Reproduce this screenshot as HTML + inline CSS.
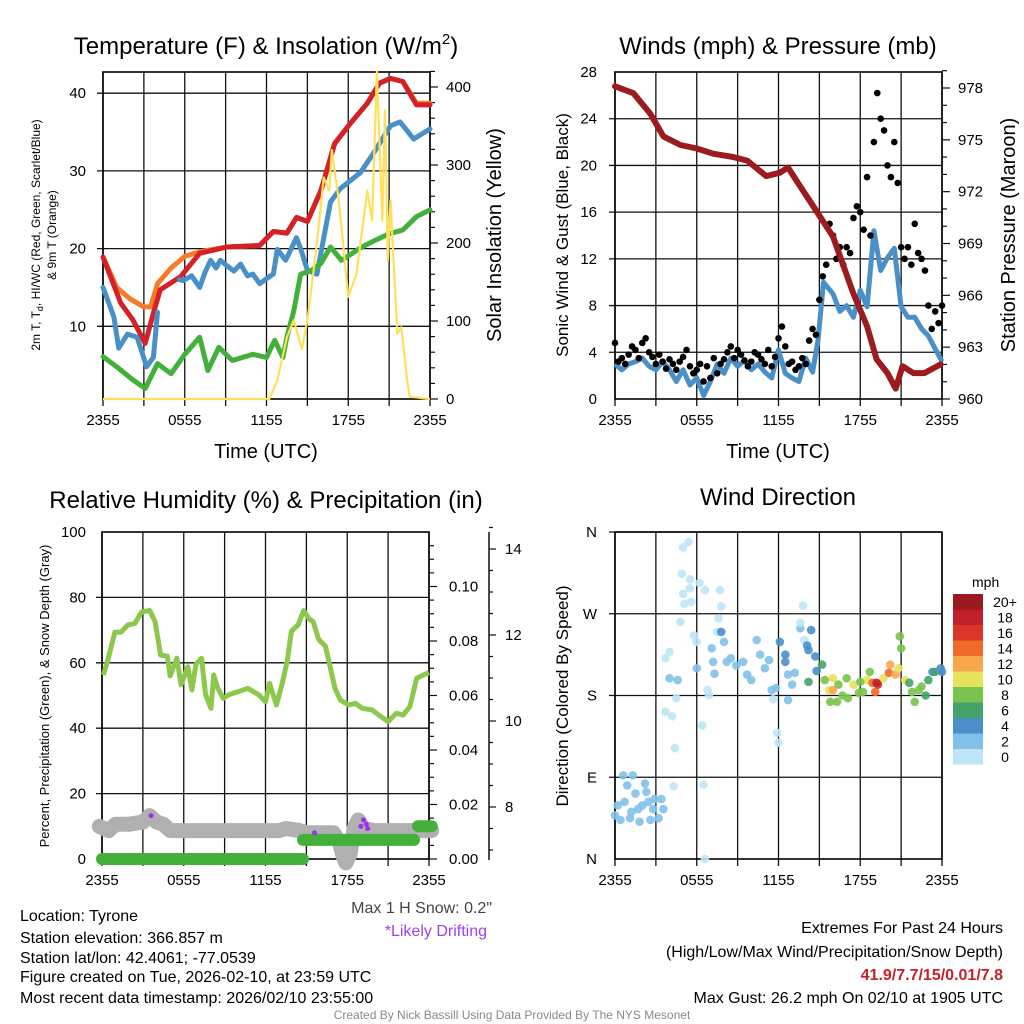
<!DOCTYPE html>
<html><head><meta charset="utf-8"><style>
html,body{margin:0;padding:0;background:#fff;}
svg{display:block;font-family:"Liberation Sans",sans-serif;}
</style></head><body>
<svg id="c" width="1024" height="1024" viewBox="0 0 1024 1024" xmlns="http://www.w3.org/2000/svg">
<rect width="1024" height="1024" fill="#fff"/>
<!-- titles -->
<text x="266" y="54" font-size="24" text-anchor="middle">Temperature (F) &amp; Insolation (W/m<tspan font-size="15" dy="-10">2</tspan><tspan dy="10">)</tspan></text>
<text x="778" y="54" font-size="24" text-anchor="middle">Winds (mph) &amp; Pressure (mb)</text>
<text x="266" y="508" font-size="24" text-anchor="middle">Relative Humidity (%) &amp; Precipitation (in)</text>
<text x="778" y="505" font-size="24" text-anchor="middle">Wind Direction</text>
<!-- axis titles -->
<text x="266" y="458" font-size="20" text-anchor="middle">Time (UTC)</text>
<text x="778" y="458" font-size="20" text-anchor="middle">Time (UTC)</text>
<text transform="translate(40,235) rotate(-90)" font-size="12" text-anchor="middle">2m T, T<tspan font-size="9" dy="3">d</tspan><tspan dy="-3">, HI/WC (Red, Green, Scarlet/Blue)</tspan></text>
<text transform="translate(56,235) rotate(-90)" font-size="12" text-anchor="middle">&amp; 9m T (Orange)</text>
<text transform="translate(501,235) rotate(-90)" font-size="20" text-anchor="middle">Solar Insolation (Yellow)</text>
<text transform="translate(568,235) rotate(-90)" font-size="17" text-anchor="middle">Sonic Wind &amp; Gust (Blue, Black)</text>
<text transform="translate(1015,235) rotate(-90)" font-size="20" text-anchor="middle">Station Pressure (Maroon)</text>
<text transform="translate(49,696) rotate(-90)" font-size="13" text-anchor="middle">Percent, Precipitation (Green), &amp; Snow Depth (Gray)</text>
<text transform="translate(568,696) rotate(-90)" font-size="17" text-anchor="middle">Direction (Colored By Speed)</text>
<!-- footer text -->
<g font-size="16">
<text x="20" y="921">Location: Tyrone</text>
<text x="20" y="943">Station elevation: 366.857 m</text>
<text x="20" y="963">Station lat/lon: 42.4061; -77.0539</text>
<text x="20" y="982">Figure created on Tue, 2026-02-10, at 23:59 UTC</text>
<text x="20" y="1003">Most recent data timestamp: 2026/02/10 23:55:00</text>
</g>
<text x="492" y="913" font-size="16" fill="#444" text-anchor="end">Max 1 H Snow: 0.2"</text>
<text x="487" y="936" font-size="16" fill="#a040f0" text-anchor="end">*Likely Drifting</text>
<g font-size="16" text-anchor="end">
<text x="1003" y="933">Extremes For Past 24 Hours</text>
<text x="1003" y="957">(High/Low/Max Wind/Precipitation/Snow Depth)</text>
<text x="1003" y="980" fill="#c8202a" font-weight="bold">41.9/7.7/15/0.01/7.8</text>
<text x="1003" y="1003">Max Gust: 26.2 mph On 02/10 at 1905 UTC</text>
</g>
<text x="512" y="1019" font-size="12" fill="#888" text-anchor="middle">Created By Nick Bassill Using Data Provided By The NYS Mesonet</text>
<text x="972" y="587" font-size="14">mph</text>
</svg>
<script>
// ---------- Data ----------
const xTickLabels = ["2355","0555","1155","1755","2355"];
// Panel 1: temperature
const redT = [0,1.3,2.2,3.1,3.7,4.2,5.7,7.1,9.1,11.5,12.5,13.5,14.2,15,16,17,18.1,19.4,20.3,21.1,22,23,24];
const redV = [18.9,13,10.8,7.8,11.7,14.7,16.4,19.4,20.2,20.4,22.2,22,24,23.5,27.5,33.5,36,38.7,41.3,41.9,41.5,38.5,38.5];
const orangeT = [0,0.5,1,2,3,3.5,4,5,6,7.1,9.1,11.5,12.5,13.5,14.2,15,16,17,18.1,19.4,20.3,21.1,22,23,24];
const orangeV = [18.9,17,15,13.5,12.5,12.5,15.5,17.5,19,19.6,20.2,20.4,22.2,22,24,23.5,27.5,33.5,36,38.7,41.3,41.9,41.5,38.7,38.7];
const blueT = [0,0.8,1.15,1.8,2.5,3.2,3.7,4.0,4.3,5.6,5.9,6.5,7.1,7.5,7.9,8.3,8.6,9.6,10.1,10.6,11,11.5,12.3,12.5,12.8,13.4,14.2,14.5,15,15.7,16.7,17.4,18.9,19.9,21.1,21.8,22.8,24];
const blueV = [15,11.2,7.2,9,8.6,4.8,6,11.8,null,16,15.9,16.5,15,17,18.5,17.5,18.5,17.1,18,16.5,16.7,15.5,16.5,16.7,19.9,18.5,21.4,20,17.2,16.7,26,27.7,29.8,32.4,35.8,36.3,34.1,35.4];
const greenT = [0,1,2.2,3.1,4,5,6,7.1,7.7,8.5,9.5,11,12,12.6,13.2,13.5,14,14.5,15.3,16,16.7,17.5,18.3,19,20,21,22,23,24];
const greenV = [6.1,4.8,3.1,2.0,5.2,3.9,6.4,8.6,4.3,7.3,5.6,6.4,6.0,8.2,6.0,8.6,12,16.7,17.2,18.1,20.2,18.5,19.4,20.2,21.1,21.9,22.4,24.1,25];
const solarT = [0,12.2,12.8,13.5,14,14.6,15,15.7,16.2,16.6,16.8,17.3,18,18.6,19.4,19.75,20.1,20.5,20.7,20.9,21.1,21.6,21.9,22.3,22.5,24];
const solarV = [0,0,24,79,101,64,101,199,284,267,319,255,131,160,267,229,420,229,370,177,255,84,92,28,3,0];
// Panel 2: winds & pressure
const presT = [0,1.35,2.6,3.55,4.8,6,7.2,8.7,9.7,11.1,12.1,12.7,13.6,14.6,16,17.5,18.5,19.2,20,20.6,21.1,21.9,22.7,23.9];
const presV = [978.1,977.7,976.5,975.2,974.7,974.5,974.2,974.0,973.8,972.9,973.1,973.4,972.3,971.1,969.4,966.1,964.2,962.3,961.5,960.6,961.9,961.5,961.5,962.0];
const windT = [0,0.5,1,1.5,2,2.5,3,3.5,4,4.5,5,5.5,6,6.5,7,7.5,8,8.5,9,9.5,10,10.5,11,11.5,12,12.5,13,13.5,14,14.5,14.9,15.3,16,16.5,17,17.5,18,18.5,19,19.5,20,20.5,21,21.5,22,22.5,23,23.5,24];
const windV = [3,2.5,3,3.2,3.5,2.8,2.5,3.2,2.5,1.5,2.5,1.2,1.8,0.3,1.5,3,2.2,3.5,2.8,3.3,2.5,3.0,2.3,1.8,4.2,2.2,1.8,1.5,3.5,2.3,5,10,9,7.5,8,7,9.3,7.9,14.4,11,12.1,12.9,7.9,7,7,6,5.4,4.3,3.2];
const gustV = [4.8,3.2,3.5,3.0, 3.8,4.5,4.2,3.5, 4.8,5.2,4.0,3.6, 3.0,3.8,3.2,2.6, 3.4,3.0,2.5,3.2, 3.6,4.2,2.8,2.2, 2.5,3.0,1.5,2.8, 1.8,3.5,2.2,3.0, 3.4,4.0,4.5,3.5, 4.2,3.8,3.3,2.8, 3.2,4.0,3.8,3.4, 3.0,4.2,2.8,3.6, 5.2,6.2,4.5,3.0, 3.2,2.5,2.8,3.5, 3.0,5.0,6.0,5.5, 8.5,10.5,11.5,15, 14,12,13,11.5, 13,12.5,15.5,16.5, 16,14.5,19,14, 22,26.2,24,23, 20,19,22,18.5, 13,12,13,11.5, 15,12.5,12,11, 8,6,7.5,6.5, 8];
// Panel 3: humidity, precip, snow
const rhT = [0.1,0.47,0.95,1.4,1.9,2.4,2.9,3.5,3.9,4.3,4.8,5.0,5.5,5.8,6.3,6.6,6.9,7.3,7.6,8.0,8.2,8.5,8.9,9.3,10.0,10.7,11.5,12.0,12.3,12.8,13.2,13.6,13.9,14.4,14.8,15.2,15.5,15.9,16.4,16.7,17.1,17.5,18.1,18.6,19.1,19.8,20.5,21.0,21.6,22.1,22.6,23.1,23.6,24];
const rhV = [56.3,61.5,69.4,69.4,71.6,72,75.5,76,72.6,62.4,62,56,61.4,53.3,58.8,51.7,59.6,61.4,50.2,46.1,56.3,52.2,49.1,50.2,51.2,52.2,50.2,48.1,53.7,47.1,53.3,60.6,69.7,71.6,76,73.4,72.6,67.2,65.1,59.6,52.2,48.6,47.1,47.6,46.1,45.6,43.5,42,44.6,44,46.6,55.3,56.3,57];
const precipT = [0,14.75,14.75,22.9,23.2,24.2];
const precipV = [0,0,0.007,0.007,0.012,0.012];
const snowT = [-0.2,0.5,1,2,3,3.5,4,4.5,5,7,9,11,13,13.5,14.5,15,16,17,17.4,17.7,17.9,18.2,18.5,18.8,19.2,20,22,24.2];
const snowV = [7.55,7.45,7.6,7.6,7.65,7.8,7.65,7.6,7.45,7.45,7.45,7.45,7.45,7.5,7.45,7.4,7.4,7.4,7.2,6.85,6.7,6.9,7.5,7.7,7.5,7.45,7.45,7.45];
const driftT = [3.6,15.6,19.0,19.2,19.4,19.5];
const driftV = [7.8,7.4,7.55,7.7,7.6,7.5];
// Panel 4: wind direction
const dirT = [0,0.2,0.6,0.7,0.9,1.1,1.3,1.5,1.7,2.0,2.2,2.3,2.6,2.8,2.9,3.2,3.4,3.55,0.4,1.8,1.2,2.45,
 3.7,4.0,3.7,4.2,4.4,4.3,4.5,4.8,4.9,5.0,5.4,5.5,5.0,5.1,5.6,5.5,5.8,6.0,6.2,6.6,6.5,6.4,6.6,6.9,6.8,7.6,7.7,7.8,7.5,
 4.0,4.6,6.0,7.1,7.2,7.3,7.8,8.0,8.2,8.5,8.9,9.4,9.7,10.0,10.4,10.65,11.0,11.3,11.5,11.8,12.1,12.5,12.5,12.7,13.0,12.7,13.2,13.6,13.9,14.1,14.2,14.4,14.7,14.8,14.2,11.9,12.0,11.6,13.8,13.6,
 15.2,15.4,15.7,15.8,16.0,16.0,16.4,16.7,17.0,17.1,17.5,17.9,18.2,18.5,18.7,18.9,19.1,19.3,19.7,20.1,20.2,20.6,20.8,20.9,21.0,21.3,21.6,21.8,22.0,22.3,22.5,22.8,23.0,23.3,23.5,23.9,24,16.3,18.0,19.2];
const dirV = [48,59,92,63,81,45,92,72,55,59,83,74,43,55,66,45,66,55,43,41,52,63,
 221,228,162,157,122,80,177,261,314,343,349,298,292,281,283,308,246,239,304,296,82,147,0,180,186,265,296,278,250,
 199,197,210,232,217,204,250,239,217,221,213,217,203,197,241,225,210,219,186,188,239,225,217,203,192,175,205,254,241,235,230,252,223,207,195,139,128,176,279,260,
 214,197,186,173,199,186,192,180,199,177,192,183,184,197,206,194,184,192,199,205,214,203,210,245,232,197,194,184,173,186,190,180,197,206,206,210,206,173,195,194];
const dirS = [3,3,3,3,3,3,3,3,3,3,3,3,3,3,3,3,3,2,3,3,3,3,
 1,1,1,1,1,1,1,1,1,1,1,1,1,1,1,1,1,1,1,1,1,1,1,1,1,1,1,1,1,
 3,3,3,3,3,3,4,3,3,3,3,3,3,3,3,3,3,3,3,3,4.5,5,5,3,3,3,3,3,1,4.5,5,5,5,5,6,1,1,1,1,1,
 6,8,10,8,10,13,8,8,8,8,10,8,8,10,8,15,15,16,10,15,12,12,10,8,8,10,6,8,8,8,8,6,6,4,6,4,4,8,8,18];
const speedLabels = ["20+","18","16","14","12","10","8","6","4","2","0"];
const speedColors = ["#9b1a1f","#c0202a","#dd3428","#f06a2c","#f8a84b","#e7e25c","#7cc24e","#45a36a","#4a8fca","#82c1ea","#bfe6f8"];

// ---------- helpers ----------
const NS="http://www.w3.org/2000/svg";
const svg=document.getElementById('c');
function el(tag,attrs,parent){const e=document.createElementNS(NS,tag);for(const k in attrs)e.setAttribute(k,attrs[k]);(parent||svg).appendChild(e);return e;}
function panelX(x0,x1){return t=>x0+(x1-x0)*t/24;}
function linScale(v0,p0,v1,p1){return v=>p0+(v-v0)*(p1-p0)/(v1-v0);}
function pathFrom(ts,vs,xs,ys){let d="",pen=false;for(let i=0;i<ts.length;i++){if(vs[i]===null){pen=false;continue;}d+=(pen?"L":"M")+xs(ts[i]).toFixed(1)+","+ys(vs[i]).toFixed(1);pen=true;}return d;}
function frame(g,x0,y0,x1,y1,hLines,name){
  for(let i=0;i<=8;i++){const x=x0+(x1-x0)*i/8;
    const l=el('line',{x1:x,y1:y0,x2:x,y2:y1,stroke:'#111','stroke-width':1.3},g);
    
    
    const tk=el('line',{x1:x,y1:y1,x2:x,y2:y1+7,stroke:'#111','stroke-width':1.3},g);
    
    }
  hLines.forEach(y=>{const l=el('line',{x1:x0-6,y1:y,x2:x1,y2:y,stroke:'#111','stroke-width':1.3},g);
    
    });
  const r=el('rect',{x:x0,y:y0,width:x1-x0,height:y1-y0,fill:'none',stroke:'#000','stroke-width':1.6},g);
  
  
  xTickLabels.forEach((s,i)=>{const t=el('text',{x:x0+(x1-x0)*i/4,y:y1+26,'font-size':15,'text-anchor':'middle'},g);t.textContent=s;
    
    });
}
function label(g,x,y,s,anchor,size){const t=el('text',{x:x,y:y,'font-size':size||15,'text-anchor':anchor},g);t.textContent=s;
  
  return t;}
function tick(g,x,y,len){const l=el('line',{x1:x,y1:y,x2:x+len,y2:y,stroke:'#111','stroke-width':1.2},g);
  
  }

// ---------- Panel 1 ----------
{const g=el('g',{});


const X=panelX(103,430),Y=linScale(0,404,40,93.2),YS=linScale(0,399,400,87);
frame(g,103,72,430,399,[10,20,30,40].map(Y),'temperature');
[10,20,30,40].forEach(v=>label(g,86,Y(v)+5,String(v),'end'));
for(let v=0;v<=420;v+=20){tick(g,430,YS(v),v%100===0?8:5);}
[0,100,200,300,400].forEach(v=>label(g,446,YS(v)+5,String(v),'start'));
const ln=(ts,vs,c,w,n)=>{const p=el('path',{d:pathFrom(ts,vs,X,Y),fill:'none',stroke:c,'stroke-width':w,'stroke-linejoin':'round','stroke-linecap':'round'},g);
  
  };
ln(orangeT,orangeV,'#f47b2a',5,'temp-9m-line');
ln(redT,redV,'#d42027',5,'temp-2m-line');
ln(blueT,blueV,'#4a90c8',5,'heat-index-windchill-line');
ln(greenT,greenV,'#44b03c',5,'dewpoint-line');
const sp=el('path',{d:pathFrom(solarT,solarV,X,YS),fill:'none',stroke:'#ffe05a','stroke-width':2.2,'stroke-linejoin':'round'},g);


}

// ---------- Panel 2 ----------
{const g=el('g',{});


const X=panelX(615,942),Y=linScale(0,399,28,72),YP=linScale(960,399,978,88);
frame(g,615,72,942,399,[4,8,12,16,20,24].map(Y),'winds');
[0,4,8,12,16,20,24,28].forEach(v=>label(g,597,Y(v)+5,String(v),'end'));
for(let v=960;v<=979;v++){tick(g,942,YP(v),v%3===0?8:5);}
[960,963,966,969,972,975,978].forEach(v=>label(g,958,YP(v)+5,String(v),'start'));
const wp=el('path',{d:pathFrom(windT,windV,X,Y),fill:'none',stroke:'#4a90c8','stroke-width':5,'stroke-linejoin':'round'},g);


gustV.forEach((v,i)=>{const c=el('circle',{cx:X(i*0.25),cy:Y(v),r:3.3,fill:'#000'},g);
  
  });
const pp=el('path',{d:pathFrom(presT,presV,X,YP),fill:'none',stroke:'#9b1b1e','stroke-width':6,'stroke-linejoin':'round','stroke-linecap':'round'},g);


}

// ---------- Panel 3 ----------
{const g=el('g',{});


const X=panelX(102,429),Y=linScale(0,859,100,532),YR=linScale(0,859,0.02,804.5),YS=linScale(8,807,14,549);
frame(g,102,532,429,859,[20,40,60,80].map(Y),'humidity');
[0,20,40,60,80,100].forEach(v=>label(g,86,Y(v)+5,String(v),'end'));
for(let v=0;v<=0.1151;v+=0.005){tick(g,429,YR(v),Math.abs(v/0.02-Math.round(v/0.02))<0.01?8:5);}
[0,0.02,0.04,0.06,0.08,0.10].forEach(v=>label(g,449,YR(v)+5,v.toFixed(2),'start'));
const ax=el('line',{x1:489,y1:532,x2:489,y2:860,stroke:'#111','stroke-width':1.5},g);


for(let v=7;v<=14.5;v+=0.5){tick(g,489,YS(v),v%2===0?7:4);}
[8,10,12,14].forEach(v=>label(g,505,YS(v)+5,String(v),'start'));
const sp=el('path',{d:pathFrom(snowT,snowV,X,YS),fill:'none',stroke:'#b0b0b0','stroke-width':15,'stroke-linejoin':'round','stroke-linecap':'round'},g);


for(let i=0;i<precipT.length;i+=2){const pl=el('line',{x1:X(precipT[i]),y1:YR(precipV[i]),x2:X(precipT[i+1]),y2:YR(precipV[i+1]),stroke:'#44b03c','stroke-width':12,'stroke-linecap':'round'},g);
  
  }
driftT.forEach((t,i)=>{const c=el('circle',{cx:X(t),cy:YS(driftV[i]),r:2.5,fill:'#a030f0'},g);
  
  });
const rp=el('path',{d:pathFrom(rhT,rhV,X,Y),fill:'none',stroke:'#8cc84b','stroke-width':5,'stroke-linejoin':'round'},g);


}

// ---------- Panel 4 ----------
{const g=el('g',{});


const X=panelX(615,942),Y=linScale(0,859,360,532);
frame(g,615,532,942,859,[90,180,270,360].map(Y),'direction');
[["N",0],["E",90],["S",180],["W",270],["N",360]].forEach(a=>label(g,597,Y(a[1])+5,a[0],'end'));
const colorFor=s=>{const idx=Math.min(10,Math.floor(s/2));return speedColors[10-idx];};
dirT.forEach((t,i)=>{const c=el('circle',{cx:X(t),cy:Y(dirV[i]),r:4.3,fill:colorFor(dirS[i]),'fill-opacity':0.9},g);
  
  });
speedLabels.forEach((s,i)=>{const y=594+i*15.5;
  const r=el('rect',{x:953,y:y,width:30,height:15.6,fill:speedColors[i]},g);
  
  
  const t=el('text',{x:1005,y:y+13,'font-size':14,'text-anchor':'middle'},g);t.textContent=s;
  
  });
}
</script>
</body></html>
